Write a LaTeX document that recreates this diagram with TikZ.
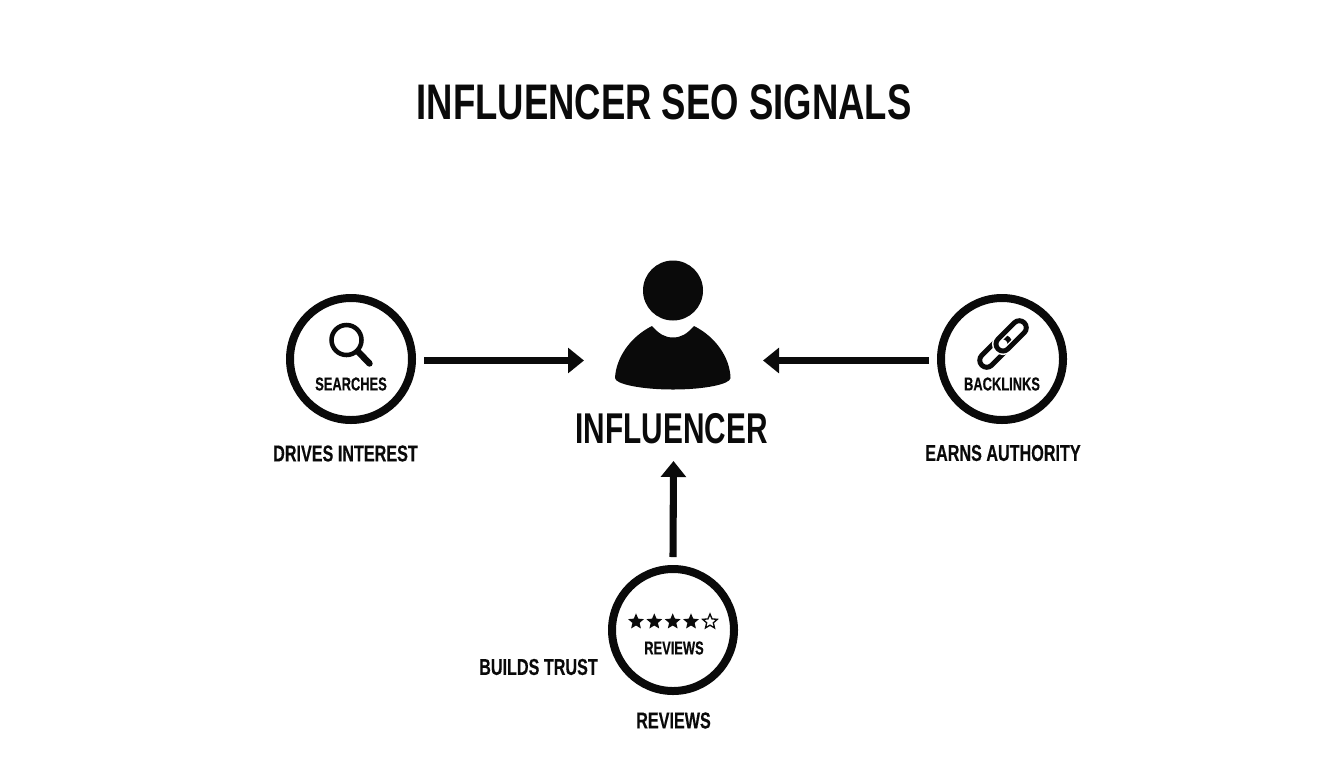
\documentclass[tikz,border=0pt]{standalone}
\usepackage{fontspec}
\setmainfont{Liberation Sans}
\newfontfamily\titlefont[FakeStretch=0.73]{Liberation Sans}
\newfontfamily\hubfont[FakeStretch=0.692]{Liberation Sans}
\newfontfamily\midfont[FakeStretch=0.705,FakeBold=0.3]{Liberation Sans}
\newfontfamily\smallfont[FakeStretch=0.69,FakeBold=0.3]{Liberation Sans}
\usetikzlibrary{arrows.meta,shapes.geometric}
\definecolor{ink}{HTML}{0A0A0A}
\tikzset{
  x=0.75pt,y=-0.75pt,
  ring/.style={circle,draw=ink,line width=6pt,minimum size=91.5pt,inner sep=0pt,outer sep=9pt},
  flow/.style={draw=ink,line width=5.3pt,-{Triangle[length=12pt,width=18.5pt]}},
  tlabel/.style={inner sep=0pt,text=ink},
  small/.style={tlabel,font=\smallfont\bfseries\fontsize{14}{14}\selectfont},
  mid/.style={tlabel,font=\midfont\bfseries\fontsize{17.2}{17}\selectfont},
  rate/.style={star,star points=5,star point ratio=2.2,minimum size=12.5pt,inner sep=0pt,fill=ink},
  chain/.style={draw=ink,line width=3.7pt,rounded corners=5.2pt},
}
\begin{document}
\begin{tikzpicture}
\useasboundingbox (0,0) rectangle (1344,768);
\fill[white] (0,0) rectangle (1344,768);
% title
\node[tlabel,font=\titlefont\bfseries\fontsize{37.5}{38}\selectfont] (title) at (664,102.5) {INFLUENCER SEO SIGNALS};
% hub: invisible frame the three arrows end on
\node[minimum width=134.25pt,minimum height=150.75pt,inner sep=0pt,outer sep=0pt] (hub) at (673.5,360.5) {};
% person
\fill[ink] (673,290.5) circle[radius=30];
\fill[ink] (652,326) .. controls (659,334) and (665,337.5) .. (673,337.5)
  .. controls (681,337.5) and (687,334) .. (694,326)
  .. controls (716,337) and (730,358) .. (730.5,378)
  .. controls (730.5,384) and (705,389.5) .. (673,389.5)
  .. controls (641,389.5) and (615,384) .. (615,378)
  .. controls (616,358) and (630,337) .. (652,326) -- cycle;
\node[tlabel,font=\hubfont\bfseries\fontsize{32.3}{33}\selectfont] (inf) at (671.5,429) {INFLUENCER};
% rings
\node[ring] (searches) at (351,359) {};
\node[ring] (backlinks) at (1002,359) {};
\node[ring] (reviews) at (673,630) {};
% arrows
\draw[flow] (searches.east |- hub.west) -- (hub.west);
\draw[flow] (backlinks.west |- hub.east) -- (hub.east);
\draw[flow] (reviews.north) -- (hub.south);
% magnifier
\draw[ink,line width=3.4pt] (346.5,340) circle[radius=15];
\draw[ink,line width=4.8pt,line cap=round] (358,351.5) -- (369.5,363.5);
% chain
\begin{scope}[shift={(1003,344)},rotate=45]
  \draw[chain] (-30,-7) rectangle (7,7);
  \draw[white,line width=6pt,rounded corners=5.2pt] (-7,-7) rectangle (30,7);
  \draw[chain] (-7,-7) rectangle (30,7);
\end{scope}
% stars
\node[rate] (s1) at (636,621.7) {};
\node[rate] (s2) at (654.3,621.7) {};
\node[rate] (s3) at (672.7,621.7) {};
\node[rate] (s4) at (691,621.7) {};
\node[rate,fill=white,draw=ink,line width=1pt,minimum size=11.5pt] (s5) at (710,621.7) {};
% labels
\node[small] (l1) at (351,384) {SEARCHES};
\node[small] (l2) at (1002,384) {BACKLINKS};
\node[small] (l3) at (674,648) {REVIEWS};
\node[mid] (l4) at (345.5,453.5) {DRIVES INTEREST};
\node[mid] (l5) at (1003,453) {EARNS AUTHORITY};
\node[mid] (l6) at (538.5,667) {BUILDS TRUST};
\node[mid] (l7) at (673.5,720.5) {REVIEWS};
\end{tikzpicture}
\end{document}
